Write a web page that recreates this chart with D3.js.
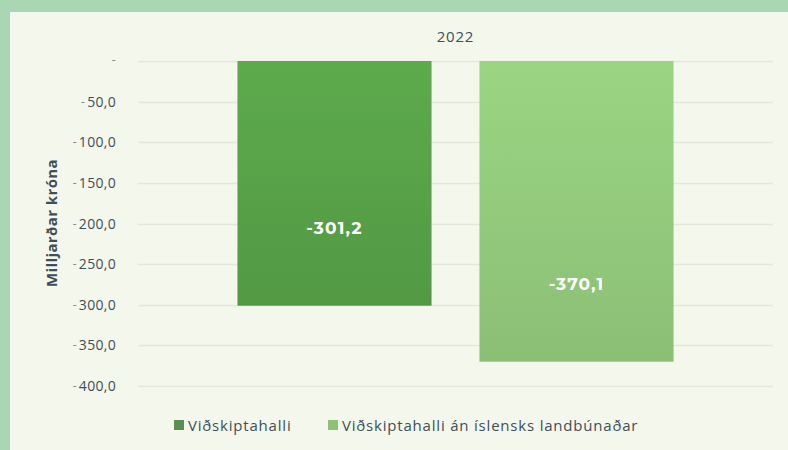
<!DOCTYPE html>
<html>
<head>
<meta charset="utf-8">
<style>
    body { margin: 0; background: #a9d6b3; }
    text { font-family: "Open Sans", sans-serif; }
</style>
<script src="https://d3js.org/d3.v7.min.js"></script>
</head>
<body>
<svg width="788" height="450"></svg>
<script>
    var categories = ["2022"];
    var seriesNames = ["Viðskiptahalli", "Viðskiptahalli án íslensks landbúnaðar"];
    var seriesValues = [-301.2, -370.1];
    var seriesColors = ["#58a148", "#93ca7c"];
    var legendColors = ["#5b8f4f", "#8cc277"];
    var yTicks = [0, -50, -100, -150, -200, -250, -300, -350, -400];

    var svg = d3.select("svg");

    // panel (reference is cropped, border shows on top and left only)
    svg.append("rect")
        .attr("x", 10).attr("y", 12)
        .attr("width", 778).attr("height", 438)
        .attr("fill", "#f4f7eb");

    var fmt = function (v) {
        if (v === 0) return "-";
        return "-" + d3.format(".1f")(Math.abs(v)).replace(".", ",");
    };
    var digits = function (v) {
        return d3.format(".1f")(Math.abs(v)).replace(".", ",");
    };

    var y = d3.scaleLinear().domain([-400, 0]).range([386, 61]);
    var x = d3.scaleBand().domain(categories).range([138, 773]);
    var xs = d3.scaleBand().domain(seriesNames).range([0, x.bandwidth()])
        .paddingInner(0.198).paddingOuter(0.411);

    // gridlines
    svg.append("g").selectAll("line")
        .data(yTicks)
        .join("line")
        .attr("x1", 138).attr("x2", 773)
        .attr("y1", function (d) { return Math.round(y(d)) + 0.5; })
        .attr("y2", function (d) { return Math.round(y(d)) + 0.5; })
        .attr("stroke", "#e4e7dc").attr("stroke-width", 1.5);

    // y axis labels (accounting style: faint minus set apart from digits)
    var yAxis = d3.axisLeft(y).tickValues(yTicks).tickFormat(fmt).tickSize(0).tickPadding(0);
    var ga = svg.append("g").attr("transform", "translate(116,0)").call(yAxis);
    ga.select(".domain").remove();
    ga.selectAll("text")
        .text(null)
        .attr("dy", null)
        .style("font-family", "'Open Sans', sans-serif")
        .style("font-size", "14px")
        .style("letter-spacing", "0.3px")
        .attr("fill", "#3e4f5b")
        .each(function (d) {
            var t = d3.select(this);
            t.append("tspan").attr("fill", "#7d888f").style("font-size", "12px")
                .attr("dy", d === 0 ? 2.5 : 3.5)
                .text("-");
            if (d !== 0) {
                t.append("tspan").attr("dx", 2).attr("dy", 1).text(digits(d));
            }
        });

    // y title
    svg.append("text")
        .attr("transform", "translate(57,223) rotate(-90)")
        .attr("text-anchor", "middle")
        .style("font-size", "15px")
        .style("font-weight", "bold")
        .style("letter-spacing", "0.4px")
        .attr("fill", "#3e4f5b")
        .text("Milljarðar króna");

    // category label on top
    svg.selectAll(".cat")
        .data(categories)
        .join("text")
        .attr("class", "cat")
        .attr("x", function (d) { return x(d) + x.bandwidth() / 2; })
        .attr("y", 42)
        .attr("text-anchor", "middle")
        .style("font-size", "15px")
        .style("letter-spacing", "0.8px")
        .attr("fill", "#3e4f5b")
        .text(function (d) { return d; });

    var defs = svg.append("defs");
    seriesColors.forEach(function (c, i) {
        var g = defs.append("linearGradient").attr("id", "grad" + i)
            .attr("x1", 0).attr("y1", 0).attr("x2", 0).attr("y2", 1);
        g.append("stop").attr("offset", "0%").attr("stop-color", d3.color(c).brighter(0.15));
        g.append("stop").attr("offset", "100%").attr("stop-color", d3.color(c).darker(0.15));
    });

    var bars = seriesNames.map(function (s, i) {
        return { name: s, value: seriesValues[i], i: i };
    });

    var gb = svg.append("g").attr("transform", "translate(" + x("2022") + ",0)");
    gb.selectAll("rect")
        .data(bars)
        .join("rect")
        .attr("x", function (d) { return xs(d.name); })
        .attr("y", y(0))
        .attr("width", xs.bandwidth())
        .attr("height", function (d) { return y(d.value) - y(0); })
        .attr("fill", function (d) { return "url(#grad" + d.i + ")"; });

    // labels sit in the lower part of each bar
    gb.selectAll(".lbl")
        .data(bars)
        .join("text")
        .attr("class", "lbl")
        .attr("x", function (d) { return xs(d.name) + xs.bandwidth() / 2; })
        .attr("y", function (d) { return y(d.value) - 72; })
        .attr("text-anchor", "middle")
        .style("font-family", "Montserrat, 'Noto Sans', sans-serif")
        .style("font-size", "17px")
        .style("font-weight", "bold")
        .style("letter-spacing", "1.2px")
        .attr("fill", "#ffffff")
        .text(function (d) { return fmt(d.value); });

    // legend
    var legendX = [174, 328];
    var lg = svg.append("g");
    var items = lg.selectAll("g")
        .data(seriesNames)
        .join("g")
        .attr("transform", function (d, i) { return "translate(" + legendX[i] + ",420)"; });
    items.append("rect")
        .attr("width", 10).attr("height", 10)
        .attr("fill", function (d, i) { return legendColors[i]; });
    items.append("text")
        .attr("x", 14).attr("y", 11)
        .style("font-size", "15px")
        .style("letter-spacing", "0.8px")
        .attr("fill", "#3e4f5b")
        .text(function (d) { return d; });
</script>
</body>
</html>
